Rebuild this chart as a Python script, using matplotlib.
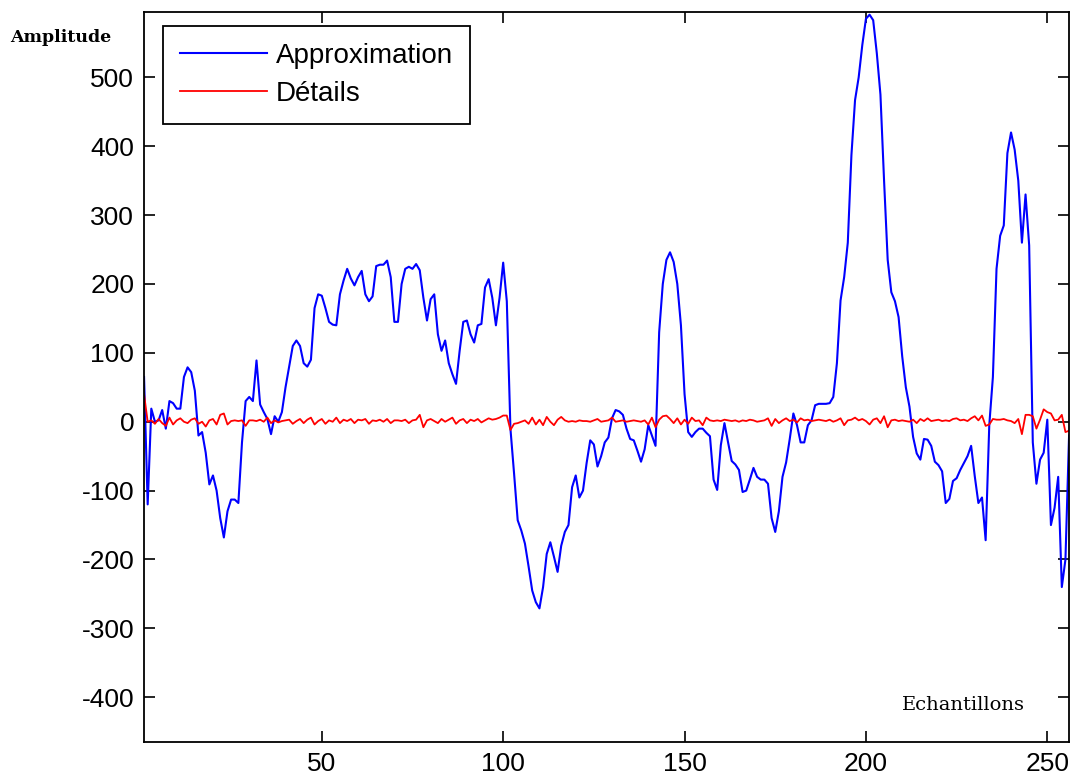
import numpy as np
from matplotlib import pyplot as plt

# approximation coefficients (blue) and detail coefficients (red), 256 samples
approx = [65, -120, 19, 0, 2, 17, -10, 30, 27, 19,
          19, 65, 79, 72, 45, -20, -15, -45, -91, -78,
          -100, -140, -168, -130, -113, -113, -118, -30, 30, 36,
          30, 89, 25, 14, 4, -18, 8, 0, 14, 50,
          80, 110, 118, 110, 85, 80, 90, 165, 185, 183,
          165, 145, 141, 140, 185, 205, 222, 208, 198, 210,
          219, 185, 175, 182, 226, 228, 228, 234, 210, 145,
          145, 200, 222, 225, 222, 229, 220, 180, 147, 178,
          185, 127, 103, 118, 85, 69, 55, 103, 145, 147,
          127, 115, 140, 142, 195, 207, 180, 140, 180, 231,
          175, -10, -75, -143, -158, -177, -210, -245, -262, -271,
          -240, -192, -175, -196, -218, -180, -160, -150, -95, -78,
          -110, -100, -60, -27, -33, -65, -50, -30, -23, 5,
          17, 15, 10, -10, -25, -27, -42, -58, -40, -5,
          -20, -35, 130, 200, 235, 246, 232, 200, 140, 40,
          -15, -22, -15, -10, -10, -16, -21, -84, -99, -34,
          -2, -30, -57, -62, -70, -102, -100, -84, -67, -80,
          -84, -84, -90, -140, -160, -130, -80, -59, -25, 12,
          -5, -30, -30, -5, 2, 24, 26, 26, 26, 27,
          36, 85, 176, 210, 260, 387, 467, 500, 547, 585,
          591, 583, 535, 475, 350, 235, 188, 175, 152, 95,
          50, 22, -22, -46, -55, -25, -26, -35, -58, -63,
          -72, -118, -112, -86, -82, -70, -60, -50, -35, -79,
          -118, -110, -172, -5, 65, 222, 270, 285, 390, 420,
          395, 350, 260, 330, 256, -30, -90, -55, -45, 3,
          -150, -125, -80, -240, -200, -20]

details = [40, 0, 2, -3, 4, -2, -6, 6, -4, 2,
           5, 0, -2, 3, 5, -3, 0, -7, 2, 4,
           -4, 10, 12, -4, 1, 2, 1, 2, -6, 2,
           2, 1, 3, 0, 6, -2, 2, -1, 1, 2,
           3, -3, 1, 4, -2, 3, 6, -4, 1, 4,
           -3, 2, 0, 6, -2, 3, 1, 4, -2, 3,
           2, 4, -3, 2, 1, 3, 0, 4, -2, 2,
           2, 1, 3, -2, 2, 3, 10, -8, 2, 4,
           1, -2, 4, 0, 3, 6, -3, 2, 4, -2,
           3, 1, 4, -1, 2, 5, 3, 4, 6, 9,
           9, -12, -3, -2, 0, 2, -3, 6, -4, 3,
           -5, 7, 0, -5, 3, 7, 2, 0, 1, 0,
           2, 1, 1, 0, 2, 4, 0, 1, 2, 6,
           0, 1, 2, 0, 1, 2, 1, 0, 2, -4,
           6, -8, 3, 8, 9, 4, -2, 5, -4, 3,
           -3, 6, 1, 2, -5, 6, 2, 1, 2, 1,
           3, 2, 1, 2, 0, 2, 1, 3, 2, 0,
           1, 2, 5, -6, 4, -2, 2, 5, 1, 3,
           -1, 5, 2, 3, 1, 2, 3, 2, 1, 3,
           0, 2, 5, -5, 2, 3, 6, 2, 4, 1,
           -4, 3, 5, -2, 8, -8, 2, 3, 1, 2,
           1, 0, 3, -2, 4, 1, 5, 1, 2, 3,
           1, 2, 1, 4, 5, 2, 3, 1, 5, 8,
           2, 9, -6, -4, 4, 3, 3, 4, 2, 1,
           -2, 4, -18, 10, 10, 8, -10, 3, 18, 14,
           12, 2, 3, 10, -15, -13]

xticks = [50, 100, 150, 200, 250]
yticks = [-400, -300, -200, -100, 0, 100, 200, 300, 400, 500]

n = np.arange(1, len(approx) + 1)

plt.rcParams['font.family'] = ['Liberation Sans', 'DejaVu Sans']
plt.rcParams['axes.unicode_minus'] = False

fig = plt.figure(figsize=(10.71, 7.80), dpi=100)
ax = fig.add_axes([0.1345, 0.0487, 0.8637, 0.936])

ax.plot(n, approx, color='#0000ff', lw=1.5, label='Approximation')
ax.plot(n, details, color='#ff0000', lw=1.3, label='Détails')

ax.set_xlim(1, 256)
ax.set_ylim(-465, 595)
ax.set_xticks(xticks)
ax.set_yticks(yticks)
ax.tick_params(direction='in', length=8, width=1.2, top=True, right=True,
               labelsize=19, pad=7, colors='black')
for s in ax.spines.values():
    s.set_linewidth(1.3)

leg = ax.legend(loc='upper left', bbox_to_anchor=(163 / 1071, 1 - 26 / 780),
                bbox_transform=fig.transFigure, borderaxespad=0, fontsize=20,
                handlelength=3.15, handletextpad=0.32, borderpad=0.6,
                labelspacing=0.45, fancybox=False, framealpha=1)
leg.get_frame().set_edgecolor('black')
leg.get_frame().set_linewidth(1.3)

fig.text(10 / 1071, 1 - 37 / 780, 'Amplitude', family='DejaVu Serif',
         fontsize=12.5, fontweight='bold', va='center', ha='left')
fig.text(902 / 1071, 1 - 705 / 780, 'Echantillons', family='DejaVu Serif',
         fontsize=14, va='center', ha='left')

fig.savefig('out.png', dpi=100)
